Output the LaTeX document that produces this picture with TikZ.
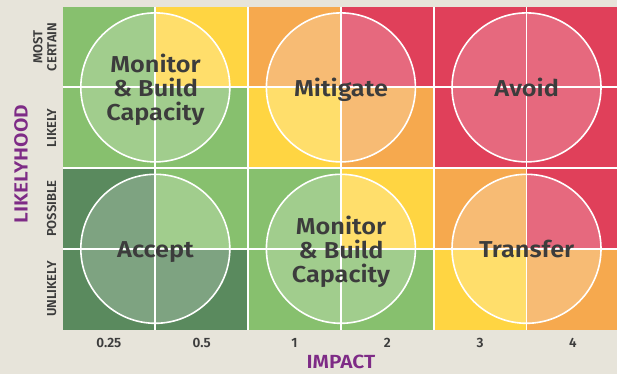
\documentclass[tikz,border=0pt]{standalone}
\usepackage{fontspec}
\setmainfont{Fira Sans}[BoldFont={Fira Sans SemiBold}]
\newfontfamily\widefont{Fira Sans SemiBold}[FakeStretch=1.1]
\definecolor{bg}{HTML}{E7E4DA}
\definecolor{cG}{HTML}{87C06E}
\definecolor{cY}{HTML}{FFD542}
\definecolor{cD}{HTML}{5A8A5E}
\definecolor{cO}{HTML}{F6A94E}
\definecolor{cR}{HTML}{E0405A}
\definecolor{purp}{HTML}{7E2B86}
\definecolor{ink}{HTML}{3C3C3C}
\tikzset{
  gridline/.style={white,line width=1.8pt},
  ring/.style={white,line width=1.6pt},
  tint/.style={fill=white,fill opacity=0.22},
  circtext/.style={text=ink,font=\fontsize{23}{24}\selectfont\widefont,align=center,inner sep=0pt},
  ylab/.style={text=ink,font=\fontsize{13}{14}\selectfont\bfseries,align=center,rotate=90,inner sep=0pt},
  xlab/.style={text=ink,font=\fontsize{13.5}{14}\selectfont\bfseries,inner sep=0pt},
  axlab/.style={text=purp,font=\fontsize{19}{20}\selectfont\widefont,inner sep=0pt}
}
\begin{document}
\begin{tikzpicture}[x=1pt,y=-1pt]
\useasboundingbox (0,0) rectangle (617,374);
\fill[bg] (0,0) rectangle (617,374);
% cells
\def\cw{92.8}\def\ch{80.7}
\foreach \r/\row in {0/{cG,cY,cO,cR,cR,cR},1/{cG,cG,cY,cO,cR,cR},2/{cD,cG,cG,cY,cO,cR},3/{cD,cD,cG,cG,cY,cO}}{
  \foreach \col [count=\c from 0] in \row {
    \fill[\col] ({62.5+\c*\cw},{6.7+\r*\ch}) rectangle ({62.5+(\c+1)*\cw},{6.7+(\r+1)*\ch});
  }
}
% circle tints
\foreach \cx in {155.3,340.9,526.5}{
  \foreach \cy in {87.4,248.8}{
    \fill[tint] (\cx,\cy) circle (74.5);
  }
}
% grid lines
\foreach \k in {1,...,5}{
  \draw[gridline] ({62.5+\k*\cw},6.7) -- ({62.5+\k*\cw},329.5);
}
\foreach \k in {1,2,3}{
  \draw[gridline] (62.5,{6.7+\k*\ch}) -- (617,{6.7+\k*\ch});
}
% rings
\foreach \cx in {155.3,340.9,526.5}{
  \foreach \cy in {87.4,248.8}{
    \draw[ring] (\cx,\cy) circle (74.5);
  }
}
% circle texts
\node[circtext] (mon1) at (155.5,90) {Monitor\\\& Build\\Capacity};
\node[circtext,anchor=base] (mit) at (341,96.7) {Mitigate};
\node[circtext,anchor=base] (avo) at (526.7,96.7) {Avoid};
\node[circtext,anchor=base] (acc) at (155.5,257.7) {Accept};
\node[circtext] (mon2) at (341,251.5) {Monitor\\\& Build\\Capacity};
\node[circtext,anchor=base] (tra) at (526.7,257.7) {Transfer};
% y labels
\node[ylab] (most) at (45,47) {MOST\\CERTAIN};
\node[ylab] (likely) at (51.7,128) {LIKELY};
\node[ylab] (poss) at (51.7,208.5) {POSSIBLE};
\node[ylab] (unl) at (51.7,289) {UNLIKELY};
\node[axlab,rotate=90] (lh) at (21,164) {LIKELYHOOD};
% x labels
\node[xlab] (x1) at (108.9,342.5) {0.25};
\node[xlab] (x2) at (201.7,342.5) {0.5};
\node[xlab] (x3) at (294.5,342.5) {1};
\node[xlab] (x4) at (387.3,342.5) {2};
\node[xlab] (x5) at (480.1,342.5) {3};
\node[xlab] (x6) at (572.9,342.5) {4};
\node[axlab] (imp) at (340.9,362.3) {IMPACT};
\end{tikzpicture}
\end{document}
